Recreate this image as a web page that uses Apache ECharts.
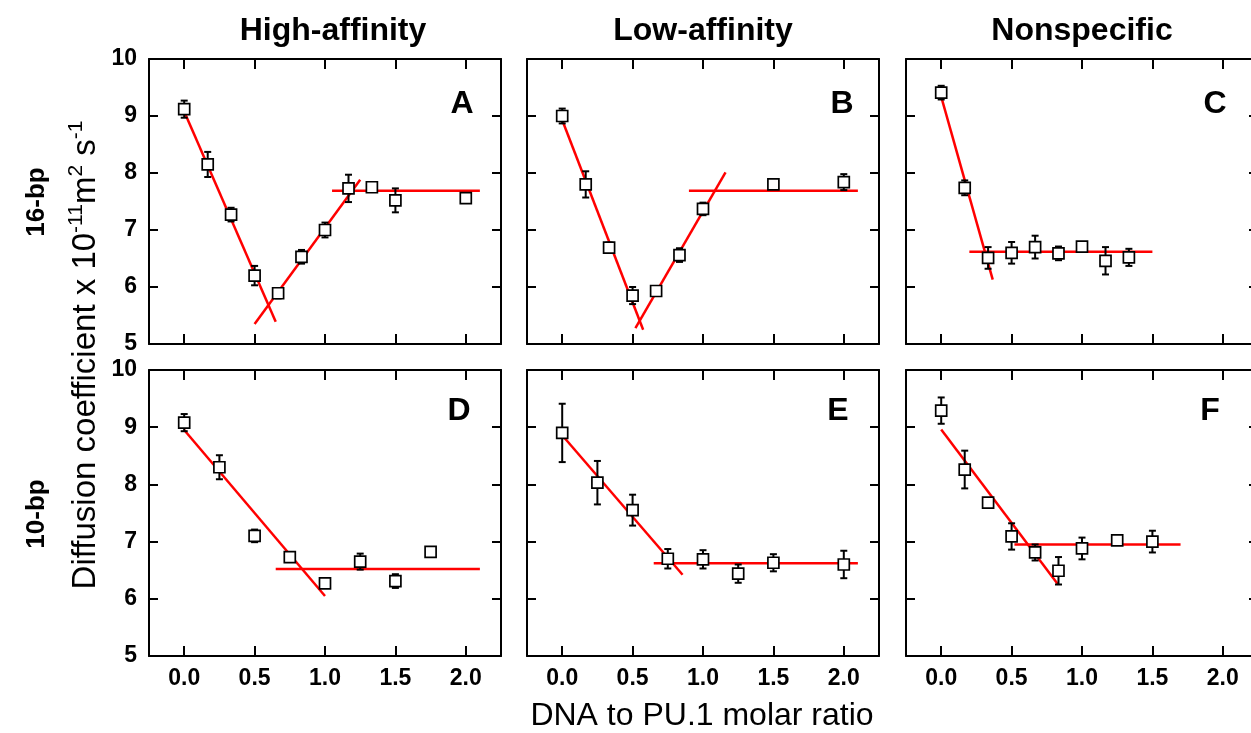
<!DOCTYPE html>
<html>
<head>
<meta charset="utf-8">
<script src="https://cdn.jsdelivr.net/npm/echarts@6/dist/echarts.min.js"></script>
<style>html,body{margin:0;padding:0;background:#fff;overflow:hidden;}#chart{width:1262px;height:733px;}</style>
</head>
<body>
<div id="chart"></div>
<script>
// ---- tick labels / titles ----
const xTickValues = [0, 0.5, 1.0, 1.5, 2.0];
const yTickValues = [5, 6, 7, 8, 9, 10];
const columnTitles = ['High-affinity', 'Low-affinity', 'Nonspecific'];
const rowTitles = ['16-bp', '10-bp'];
const panelLetters = ['A', 'B', 'C', 'D', 'E', 'F'];
const xAxisTitle = 'DNA to PU.1 molar ratio';

// ---- Panel A (16-bp, high-affinity) ----
const xA = [0, 0.167, 0.333, 0.5, 0.667, 0.833, 1.0, 1.167, 1.333, 1.5, 2.0];
const yA = [9.12, 8.15, 7.27, 6.2, 5.89, 6.53, 7.0, 7.73, 7.75, 7.52, 7.56];
const eA = [0.15, 0.22, 0.12, 0.17, 0.09, 0.12, 0.13, 0.24, 0.06, 0.21, 0.06];
const fitA = [[0, 9.08, 0.65, 5.39], [0.5, 5.35, 1.25, 7.88], [1.05, 7.69, 2.1, 7.69]];

// ---- Panel B (16-bp, low-affinity) ----
const xB = [0, 0.167, 0.333, 0.5, 0.667, 0.833, 1.0, 1.5, 2.0];
const yB = [9.0, 7.8, 6.69, 5.85, 5.93, 6.56, 7.37, 7.8, 7.84];
const eB = [0.13, 0.23, 0.09, 0.15, 0.08, 0.12, 0.11, 0.08, 0.14];
const fitB = [[0, 8.93, 0.575, 5.25], [0.52, 5.28, 1.16, 8.01], [0.9, 7.69, 2.1, 7.69]];

// ---- Panel C (16-bp, nonspecific) ----
const xC = [0, 0.167, 0.333, 0.5, 0.667, 0.833, 1.0, 1.167, 1.333];
const yC = [9.41, 7.74, 6.51, 6.6, 6.7, 6.59, 6.71, 6.46, 6.52];
const eC = [0.12, 0.13, 0.19, 0.19, 0.2, 0.12, 0.08, 0.24, 0.15];
const fitC = [[0, 9.34, 0.366, 6.13], [0.2, 6.62, 1.5, 6.62]];

// ---- Panel D (10-bp, high-affinity) ----
const xD = [0, 0.25, 0.5, 0.75, 1.0, 1.25, 1.5, 1.75];
const yD = [9.08, 8.3, 7.1, 6.73, 6.27, 6.65, 6.31, 6.82];
const eD = [0.15, 0.21, 0.11, 0.06, 0.07, 0.14, 0.12, 0.08];
const fitD = [[0, 8.95, 1.0, 6.05], [0.65, 6.52, 2.1, 6.52]];

// ---- Panel E (10-bp, low-affinity) ----
const xE = [0, 0.25, 0.5, 0.75, 1.0, 1.25, 1.5, 2.0];
const yE = [8.9, 8.03, 7.55, 6.7, 6.69, 6.44, 6.63, 6.6];
const eE = [0.51, 0.38, 0.27, 0.17, 0.16, 0.16, 0.15, 0.24];
const fitE = [[0, 8.86, 0.855, 6.42], [0.65, 6.62, 2.1, 6.62]];

// ---- Panel F (10-bp, nonspecific) ----
const xF = [0, 0.167, 0.333, 0.5, 0.667, 0.833, 1.0, 1.25, 1.5];
const yF = [9.29, 8.26, 7.68, 7.09, 6.81, 6.49, 6.88, 7.02, 7.0];
const eF = [0.23, 0.33, 0.05, 0.23, 0.14, 0.24, 0.19, 0.05, 0.19];
const fitF = [[0, 8.96, 0.83, 6.25], [0.52, 6.95, 1.7, 6.95]];

const panels = [
  {x: xA, y: yA, e: eA, fit: fitA},
  {x: xB, y: yB, e: eB, fit: fitB},
  {x: xC, y: yC, e: eC, fit: fitC},
  {x: xD, y: yD, e: eD, fit: fitD},
  {x: xE, y: yE, e: eE, fit: fitE},
  {x: xF, y: yF, e: eF, fit: fitF}
];

// ---- layout ----
const FONT = "'Liberation Sans', Arial, Helvetica, sans-serif";
const colLeft = [149, 527, 906];
const panelW = 352;
const rowTop = [59, 370];
const rowH = [285, 286];

const grids = [], xAxes = [], yAxes = [], series = [];
const axisLine = {show: true, onZero: false, lineStyle: {color: '#000', width: 2}};

panels.forEach((p, i) => {
  const row = Math.floor(i / 3), col = i % 3;
  grids.push({left: colLeft[col], top: rowTop[row], width: panelW, height: rowH[row], containLabel: false});
  ['bottom', 'top'].forEach(pos => {
    xAxes.push({
      gridIndex: i, type: 'value', position: pos, min: -0.25, max: 2.25,
      axisLine: axisLine,
      axisTick: {show: true, inside: true, length: 10, customValues: xTickValues, lineStyle: {color: '#000', width: 2}},
      axisLabel: {show: row === 1 && pos === 'bottom', customValues: xTickValues, margin: 11,
        formatter: v => Number(v).toFixed(1), color: '#000', fontFamily: FONT, fontWeight: 'bold', fontSize: 23},
      splitLine: {show: false}
    });
  });
  ['left', 'right'].forEach(pos => {
    yAxes.push({
      gridIndex: i, type: 'value', position: pos, min: 5, max: 10, interval: 1,
      axisLine: axisLine,
      axisTick: {show: true, inside: true, length: 9, lineStyle: {color: '#000', width: 2}},
      axisLabel: {show: col === 0 && pos === 'left', margin: 12, color: '#000', fontFamily: FONT, fontWeight: 'bold', fontSize: 23},
      splitLine: {show: false}
    });
  });
  const xi = 2 * i, yi = 2 * i;
  p.fit.forEach(s => {
    series.push({
      type: 'line', xAxisIndex: xi, yAxisIndex: yi, data: [[s[0], s[1]], [s[2], s[3]]],
      symbol: 'none', lineStyle: {color: '#ff0000', width: 2.5}, z: 2, silent: true
    });
  });
  series.push({
    type: 'custom', xAxisIndex: xi, yAxisIndex: yi, z: 3,
    data: p.x.map((xv, k) => [xv, p.y[k] - p.e[k], p.y[k] + p.e[k]]),
    renderItem: (params, api) => {
      const a = api.coord([api.value(0), api.value(1)]);
      const b = api.coord([api.value(0), api.value(2)]);
      const st = {stroke: '#000', lineWidth: 2};
      return {type: 'group', children: [
        {type: 'line', shape: {x1: a[0], y1: a[1], x2: b[0], y2: b[1]}, style: st},
        {type: 'line', shape: {x1: a[0] - 3.5, y1: a[1], x2: a[0] + 3.5, y2: a[1]}, style: st},
        {type: 'line', shape: {x1: b[0] - 3.5, y1: b[1], x2: b[0] + 3.5, y2: b[1]}, style: st}
      ]};
    }
  });
  series.push({
    type: 'scatter', xAxisIndex: xi, yAxisIndex: yi, z: 4,
    data: p.x.map((xv, k) => [xv, p.y[k]]),
    symbol: 'rect', symbolSize: 11,
    itemStyle: {color: '#fff', borderColor: '#000', borderWidth: 1.7, opacity: 1}
  });
});

const graphics = [];
const titleX = [333, 703, 1082];
columnTitles.forEach((t, c) => graphics.push({type: 'text', x: titleX[c], y: 31,
  style: {text: t, fontFamily: FONT, fontWeight: 'bold', fontSize: 32, fill: '#000', align: 'center', verticalAlign: 'middle'}}));
const rowLabelY = [202, 514];
rowTitles.forEach((t, r) => graphics.push({type: 'text', x: 37, y: rowLabelY[r], rotation: Math.PI / 2,
  style: {text: t, fontFamily: FONT, fontWeight: 'bold', fontSize: 26, fill: '#000', align: 'center', verticalAlign: 'middle'}}));
const letterPos = [[462, 104], [842, 104], [1215, 104], [459, 411], [838, 411], [1210, 411]];
panelLetters.forEach((t, i) => graphics.push({type: 'text', x: letterPos[i][0], y: letterPos[i][1],
  style: {text: t, fontFamily: FONT, fontWeight: 'bold', fontSize: 32, fill: '#000', align: 'center', verticalAlign: 'middle'}}));
graphics.push({type: 'text', x: 702, y: 716,
  style: {text: xAxisTitle, fontFamily: FONT, fontSize: 32, fill: '#000', align: 'center', verticalAlign: 'middle'}});
graphics.push({type: 'text', x: 86, y: 355, rotation: Math.PI / 2,
  style: {
    text: '{n|Diffusion coefficient x 10}{s|-11}{n|m}{s|2}{n| s}{s|-1}',
    align: 'center', verticalAlign: 'middle',
    rich: {
      n: {fontFamily: FONT, fontSize: 33, fill: '#000', lineHeight: 40},
      s: {fontFamily: FONT, fontSize: 21, fill: '#000', verticalAlign: 'top', lineHeight: 22}
    }
  }});

const chart = echarts.init(document.getElementById('chart'));
chart.setOption({
  animation: false,
  backgroundColor: '#fff',
  grid: grids, xAxis: xAxes, yAxis: yAxes, series: series, graphic: graphics
});
</script>
</body>
</html>
